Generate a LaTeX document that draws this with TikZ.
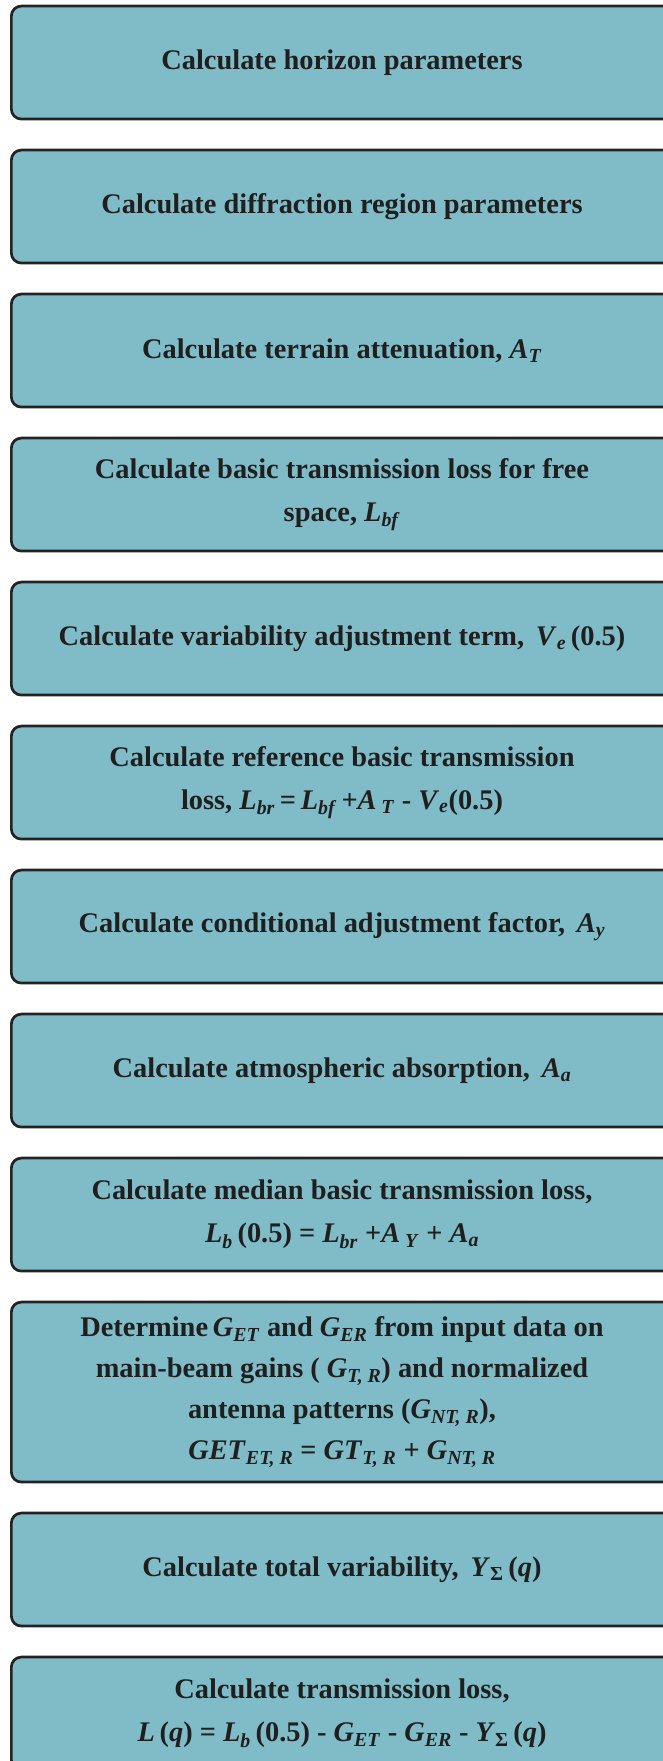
\documentclass[tikz,border=0pt]{standalone}
\usepackage{fontspec}
\setmainfont{Liberation Serif}
\usepackage{tikz}
\usetikzlibrary{positioning}
\definecolor{boxteal}{RGB}{128,188,199}
\definecolor{boxedge}{RGB}{35,35,35}
\newcommand*\var[1]{\textit{#1}}
\newcommand*\sub[1]{\textsubscript{\textit{#1}}}

\begin{document}
\begin{tikzpicture}[x=1pt,y=-1pt,node distance=28.3pt,
	stepbox/.style={shape=rectangle,draw=boxedge,fill=boxteal,line width=2.7pt,rounded corners=10pt,minimum width=800pt,minimum height=113pt,inner sep=0pt},
	steptext/.style={align=center,text=black!88,font=\fontsize{28.4}{43}\selectfont\bfseries}]
	\path[use as bounding box,clip] (0,0) rectangle (663,1761);

	\node (horizon) [stepbox,anchor=north west] at (10,4.7) {};
	\node (diffraction) [stepbox] [below=of horizon] {};
	\node (terrain) [stepbox] [below=of diffraction] {};
	\node (freespace) [stepbox] [below=of terrain] {};
	\node (variability) [stepbox] [below=of freespace] {};
	\node (reference) [stepbox] [below=of variability] {};
	\node (conditional) [stepbox] [below=of reference] {};
	\node (absorption) [stepbox] [below=of conditional] {};
	\node (median) [stepbox] [below=of absorption] {};
	\node (gains) [stepbox,minimum height=180pt] [below=of median] {};
	\node (total) [stepbox] [below=of gains] {};
	\node (loss) [stepbox] [below=of total] {};

	\node (horizon text) [steptext] at ([xshift=332pt]horizon.west) {Calculate horizon parameters};
	\node (diffraction text) [steptext] at ([xshift=332pt]diffraction.west) {Calculate diffraction region parameters};
	\node (terrain text) [steptext] at ([xshift=332pt]terrain.west) {Calculate terrain attenuation, \var{A}\sub{T}};
	\node (freespace text) [steptext] at ([xshift=332pt]freespace.west) {Calculate basic transmission loss for free\\
		space, \var{L}\sub{bf}};
	\node (variability text) [steptext] at ([xshift=332pt]variability.west) {Calculate variability adjustment term, \,\var{V}\sub{e}\,(0.5)};
	\node (reference text) [steptext] at ([xshift=332pt]reference.west) {Calculate reference basic transmission\\
		loss, \var{L}\sub{br}\,=\,\var{L}\sub{bf}\,+\var{A}\,\sub{T} - \var{V}\sub{e}(0.5)};
	\node (conditional text) [steptext] at ([xshift=332pt]conditional.west) {Calculate conditional adjustment factor, \,\var{A}\sub{y}};
	\node (absorption text) [steptext] at ([xshift=332pt]absorption.west) {Calculate atmospheric absorption, \,\var{A}\sub{a}};
	\node (median text) [steptext] at ([xshift=332pt]median.west) {Calculate median basic transmission loss,\\
		\var{L}\sub{b}\,(0.5) = \var{L}\sub{br} +\var{A}\,\sub{Y} + \var{A}\sub{a}};
	\node (gains text) [steptext,font=\fontsize{28.4}{41}\selectfont\bfseries] at ([xshift=332pt]gains.west) {Determine\,\var{G}\sub{ET} and \var{G}\sub{ER} from input data on\\
		main-beam gains ( \var{G}\sub{T, R}) and normalized\\
		antenna patterns (\var{G}\sub{NT, R}),\\
		\var{GET}\sub{ET, R} = \var{GT}\sub{T, R} + \var{G}\sub{NT, R}};
	\node (total text) [steptext] at ([xshift=332pt]total.west) {Calculate total variability, \,\var{Y}\textsubscript{Σ}\,(\var{q})};
	\node (loss text) [steptext] at ([xshift=332pt]loss.west) {Calculate transmission loss,\\
		\var{L}\,(\var{q}) = \var{L}\sub{b}\,(0.5) - \var{G}\sub{ET} - \var{G}\sub{ER} - \var{Y}\textsubscript{Σ}\,(\var{q})};
\end{tikzpicture}
\end{document}
